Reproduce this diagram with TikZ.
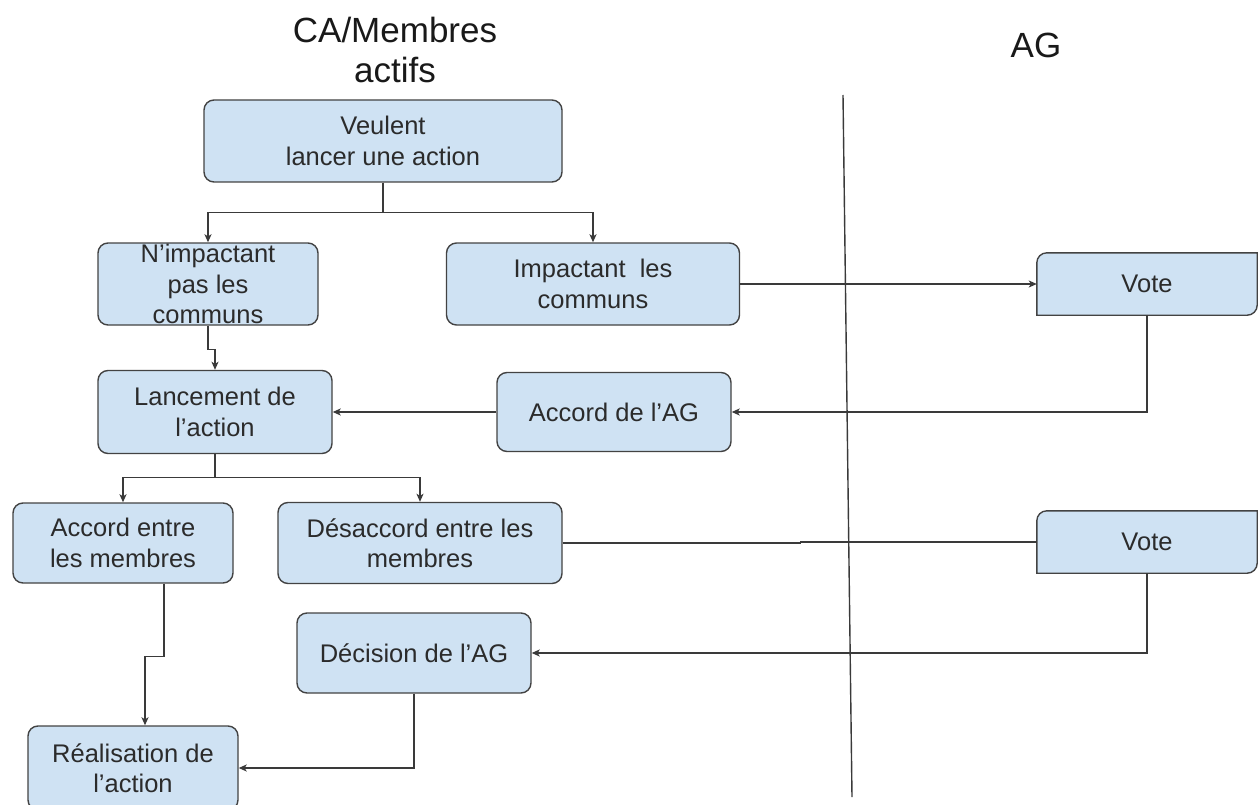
\documentclass[tikz,border=0pt]{standalone}
\usepackage{fontspec}
\setmainfont{Liberation Sans}
\usetikzlibrary{arrows.meta,backgrounds,calc}

\definecolor{bleuclair}{HTML}{CFE2F3}
\definecolor{bord}{HTML}{434343}
\definecolor{trait}{HTML}{3A3A3A}
\definecolor{texte}{HTML}{2B2B2B}

% case "Vote": rounded only top-left and bottom-right (y axis points down)
\newcommand{\casevote}[1]{%
  \filldraw[draw=bord,fill=bleuclair,line width=1.4pt] (#1.north east)
    -- ($(#1.south east)+(0,-10)$) arc (0:90:10)
    -- (#1.south west)
    -- ($(#1.north west)+(0,10)$) arc (180:270:10)
    -- cycle;}

\begin{document}
\begin{tikzpicture}[x=1pt,y=-1pt,
  etape/.style={draw=bord,fill=bleuclair,rounded corners=10pt,line width=1.4pt,
    align=center,inner sep=0pt,text=texte,font=\fontsize{25.5}{30.5}\selectfont},
  vote/.style={align=center,inner sep=0pt,text=texte,font=\fontsize{25.5}{30.5}\selectfont},
  titre/.style={align=center,inner sep=0pt,text=black!90,font=\fontsize{35}{40}\selectfont},
  fleche/.style={draw=trait,line width=1.4pt,-{Stealth[length=8pt,width=7pt,inset=2pt]}},
  lien/.style={draw=trait,line width=1.4pt}]

  \useasboundingbox (0,0) rectangle (1258,805);

  % Column titles
  \node [titre] (titreCA) at (395,50) {CA/Membres\\actifs};
  \node [titre] (titreAG) at (1036,45) {AG};

  % Separation CA / AG
  \coordinate (sepHaut) at (843,95);
  \coordinate (sepBas) at (852,797);
  \draw [lien] (sepHaut) -- (sepBas);

  % Left column: members
  \node [etape, minimum width=358, minimum height=82] (veulent) at (383,141)
    {Veulent\\lancer une action};
  \node [etape, minimum width=220, minimum height=82] (nimpact) at (208,284)
    {N’impactant\\pas les\\communs};
  \node [etape, minimum width=293, minimum height=82] (impact) at (593,284)
    {Impactant\ \ les\\communs};
  \node [etape, minimum width=234, minimum height=83] (lancement) at (215,412)
    {Lancement de\\l’action};
  \node [etape, minimum width=234, minimum height=79] (accordAG) at (614,412)
    {Accord de l’AG};
  \node [etape, minimum width=220, minimum height=80] (accordM) at (123,543)
    {Accord entre\\les membres};
  \node [etape, minimum width=284, minimum height=81] (desaccord) at (420,543)
    {Désaccord entre les\\membres};
  \node [etape, minimum width=234, minimum height=80] (decision) at (414,653)
    {Décision de l’AG};
  \node [etape, minimum width=210, minimum height=84] (realisation) at (133,768)
    {Réalisation de\\l’action};

  % Right column: AG votes
  \node [vote, minimum width=220, minimum height=62] (voteA) at (1147,284) {Vote};
  \node [vote, minimum width=220, minimum height=62] (voteB) at (1147,542) {Vote};
  \begin{pgfonlayer}{background}
    \casevote{voteA}
    \casevote{voteB}
  \end{pgfonlayer}

  % Connectors
  \draw [fleche] (veulent.south) -- ++(0,30) -| (nimpact.north);
  \draw [fleche] (veulent.south) -- ++(0,30) -| (impact.north);
  \draw [fleche] (impact.east) -- (voteA.west);
  \draw [fleche] (voteA.south) |- (accordAG.east);
  \draw [fleche] (accordAG.west) -- (lancement.east);
  \draw [fleche] (nimpact.south) -- ++(0,24) -| (lancement.north);
  \draw [fleche] (lancement.south) -- ++(0,23) -| (accordM.north);
  \draw [fleche] (lancement.south) -- ++(0,23) -| (desaccord.north);
  \draw [lien] (desaccord.east) -- ++(238,0) |- (voteB.west);
  \draw [fleche] (voteB.south) |- (decision.east);
  \draw [fleche] (decision.south) |- (realisation.east);
  \draw [fleche] ([xshift=41]accordM.south) -- ++(0,73) -| ([xshift=12]realisation.north);
\end{tikzpicture}
\end{document}
